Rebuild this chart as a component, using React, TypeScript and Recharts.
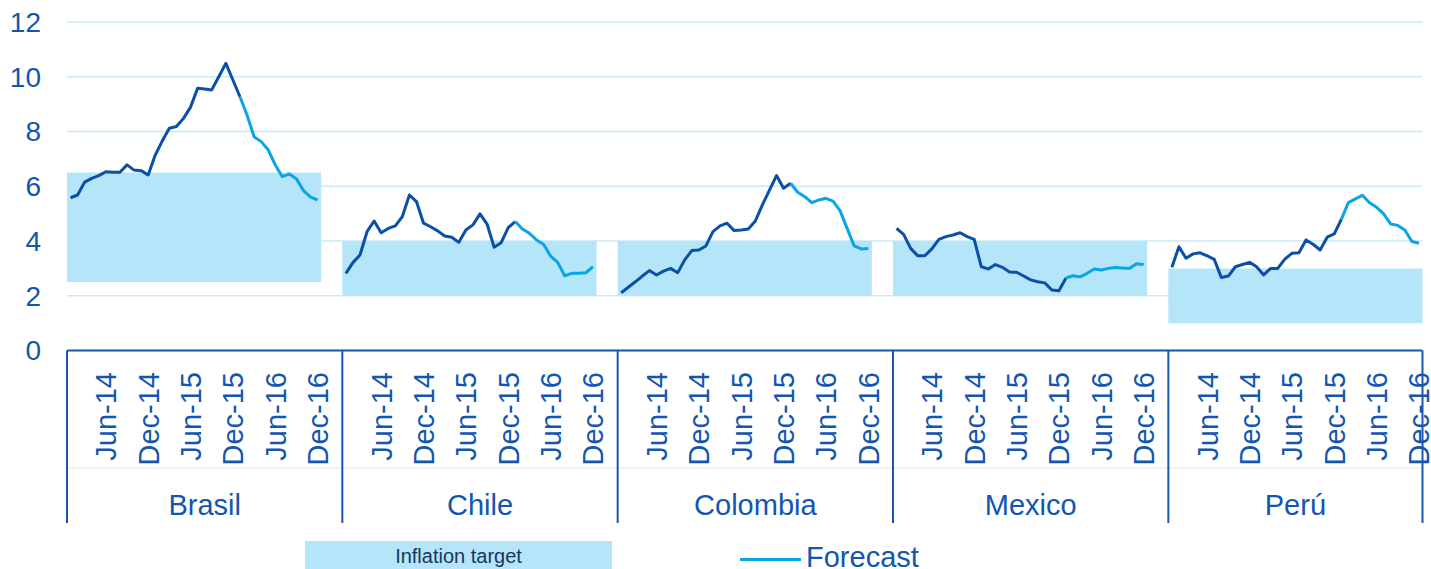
import React from 'react';
import { LineChart, Line, XAxis, YAxis, CartesianGrid, ReferenceArea } from 'recharts';

// ---------- data ----------
const countries = ['Brasil', 'Chile', 'Colombia', 'Mexico', 'Perú'];
const monthAbbr = ['Jan', 'Feb', 'Mar', 'Apr', 'May', 'Jun', 'Jul', 'Aug', 'Sep', 'Oct', 'Nov', 'Dec'];
const yearSuffixes = ['14', '15', '16'];
const monthLabels = yearSuffixes.flatMap((y) => monthAbbr.map((m) => `${m}-${y}`));
const shownMonthTicks = ['Jun-14', 'Dec-14', 'Jun-15', 'Dec-15', 'Jun-16', 'Dec-16'];
const yTicks = [0, 2, 4, 6, 8, 10, 12];
const gapSlotsBetweenCountries = 3;

// observed (Jan-14 .. Jan-16)
const brasilActual = [5.58, 5.68, 6.15, 6.29, 6.39, 6.53, 6.51, 6.51, 6.78, 6.59, 6.57, 6.41, 7.14, 7.66, 8.12, 8.18, 8.48, 8.89, 9.58, 9.55, 9.52, 10.0, 10.49, 9.88, 9.27];
const chileActual = [2.82, 3.21, 3.49, 4.34, 4.73, 4.30, 4.46, 4.55, 4.89, 5.68, 5.44, 4.65, 4.52, 4.37, 4.18, 4.14, 3.95, 4.40, 4.59, 4.99, 4.62, 3.77, 3.94, 4.49, 4.71];
const colombiaActual = [2.11, 2.31, 2.51, 2.72, 2.92, 2.76, 2.90, 3.00, 2.84, 3.31, 3.65, 3.67, 3.82, 4.34, 4.55, 4.65, 4.38, 4.40, 4.44, 4.73, 5.32, 5.86, 6.39, 5.93, 6.11];
const mexicoActual = [4.46, 4.24, 3.73, 3.46, 3.46, 3.71, 4.06, 4.16, 4.22, 4.30, 4.16, 4.06, 3.06, 2.98, 3.14, 3.04, 2.87, 2.86, 2.72, 2.58, 2.51, 2.47, 2.21, 2.18, 2.65];
const peruActual = [3.04, 3.79, 3.37, 3.53, 3.57, 3.46, 3.33, 2.67, 2.72, 3.06, 3.14, 3.22, 3.06, 2.76, 3.00, 3.00, 3.34, 3.55, 3.57, 4.04, 3.88, 3.67, 4.14, 4.26, 4.79];

// forecast (Feb-16 .. Dec-16)
const brasilForecast = [8.60, 7.81, 7.63, 7.33, 6.78, 6.35, 6.45, 6.27, 5.84, 5.60, 5.50];
const chileForecast = [4.44, 4.28, 4.04, 3.88, 3.45, 3.22, 2.73, 2.82, 2.82, 2.84, 3.06];
const colombiaForecast = [5.78, 5.62, 5.40, 5.50, 5.56, 5.46, 5.11, 4.46, 3.82, 3.71, 3.73];
const mexicoForecast = [2.73, 2.69, 2.82, 2.98, 2.94, 3.00, 3.03, 3.01, 3.00, 3.17, 3.14];
const peruForecast = [5.40, 5.54, 5.67, 5.40, 5.23, 4.99, 4.62, 4.57, 4.40, 3.98, 3.92];

// inflation target ranges
const targetLow = [2.5, 2, 2, 2, 1];
const targetHigh = [6.5, 4, 4, 4, 3];

const actualByCountry = [brasilActual, chileActual, colombiaActual, mexicoActual, peruActual];
const forecastByCountry = [brasilForecast, chileForecast, colombiaForecast, mexicoForecast, peruForecast];

// ---------- build table ----------
type Row = { key: string; actual: number | null; forecast: number | null };
type SlotInfo = { country: number; month: number | null; slot: number; groupSize: number; global: number };

const rows: Row[] = [];
const slotInfo: Record<string, SlotInfo> = {};
countries.forEach((c, ci) => {
  const act = actualByCountry[ci];
  const fc = forecastByCountry[ci];
  const gaps = ci < countries.length - 1 ? gapSlotsBetweenCountries : 0;
  const groupSize = monthLabels.length + gaps;
  monthLabels.forEach((m, mi) => {
    const key = `${c}|${m}`;
    const lastAct = act.length - 1;
    rows.push({
      key,
      actual: mi <= lastAct ? act[mi] : null,
      forecast: mi === lastAct ? act[lastAct] : mi > lastAct ? fc[mi - lastAct - 1] ?? null : null,
    });
    slotInfo[key] = { country: ci, month: mi, slot: mi, groupSize, global: rows.length - 1 };
  });
  for (let g = 0; g < gaps; g++) {
    const key = `${c}|gap${g}`;
    rows.push({ key, actual: null, forecast: null });
    slotInfo[key] = { country: ci, month: null, slot: monthLabels.length + g, groupSize, global: rows.length - 1 };
  }
});

// ---------- styling ----------
const W = 1431;
const H = 569;
const MARGIN = { top: 22, right: 8.5, bottom: 46, left: 0 };
const Y_AXIS_W = 67;
const X_AXIS_H = 172.5;
const TEXT_BLUE = '#1256B0';
const AXIS_BLUE = '#1A56AE';
const DARK_LINE = '#0A4FA8';
const LIGHT_LINE = '#0AA5E6';
const BAND = '#B5E5F8';
const GRID = '#C8EAF8';
const FONT = '"Liberation Sans", Arial, Helvetica, sans-serif';

const PLOT_W = W - MARGIN.left - Y_AXIS_W - MARGIN.right;
const SLOT_FALLBACK = PLOT_W / rows.length;

function XTick(props: any) {
  const { x, y, payload } = props;
  const info = slotInfo[payload?.value];
  if (!info) return null;
  const half = typeof payload.offset === 'number' && payload.offset > 0 ? payload.offset : SLOT_FALLBACK / 2;
  const els: React.ReactNode[] = [];
  const sepTop = y;
  const sepBottom = y + X_AXIS_H;
  if (info.global === 0) {
    els.push(
      <line key="mid" x1={x - half} x2={x - half + rows.length * 2 * half} y1={y + 117.5} y2={y + 117.5} stroke="#DCE8F4" strokeWidth={1} />
    );
  }
  if (info.month !== null && shownMonthTicks.includes(monthLabels[info.month])) {
    els.push(
      <text
        key="m"
        transform={`translate(${x},${y + 21.5}) rotate(-90)`}
        textAnchor="end"
        dy="0.36em"
        fontSize={29}
        fill={TEXT_BLUE}
        fontFamily={FONT}
      >
        {monthLabels[info.month]}
      </text>
    );
  }
  if (info.slot === 0) {
    els.push(<line key="s" x1={x - half} x2={x - half} y1={sepTop} y2={sepBottom} stroke={AXIS_BLUE} strokeWidth={2} />);
  }
  if (info.global === rows.length - 1) {
    els.push(<line key="e" x1={x + half} x2={x + half} y1={sepTop} y2={sepBottom} stroke={AXIS_BLUE} strokeWidth={2} />);
  }
  const labelSlot = Math.floor((info.groupSize - 1) / 2);
  if (info.slot === labelSlot) {
    const cx = info.groupSize % 2 === 0 ? x + half : x;
    els.push(
      <text key="c" x={cx} y={y + 164.5} textAnchor="middle" fontSize={29} fill={TEXT_BLUE} fontFamily={FONT}>
        {countries[info.country]}
      </text>
    );
  }
  return <g>{els}</g>;
}

export default function App() {
  return (
    <div style={{ position: 'fixed', left: 0, top: 0, width: W, height: H, background: '#fff', overflow: 'hidden', fontFamily: FONT }}>
      <LineChart width={W} height={H} data={rows} margin={MARGIN}>
        <CartesianGrid horizontal vertical={false} stroke={GRID} strokeWidth={1.3} />
        {countries.map((c, ci) => (
          <ReferenceArea
            key={c}
            x1={`${c}|${monthLabels[0]}`}
            x2={`${c}|${monthLabels[monthLabels.length - 1]}`}
            y1={targetLow[ci]}
            y2={targetHigh[ci]}
            fill={BAND}
            fillOpacity={1}
            stroke="none"
            ifOverflow="visible"
          />
        ))}
        <XAxis
          dataKey="key"
          type="category"
          scale="band"
          interval={0}
          height={X_AXIS_H}
          tickLine={false}
          tickSize={0}
          tickMargin={0}
          axisLine={{ stroke: AXIS_BLUE, strokeWidth: 2 }}
          tick={<XTick />}
        />
        <YAxis
          width={Y_AXIS_W}
          domain={[0, 12]}
          ticks={yTicks}
          interval={0}
          axisLine={false}
          tickLine={false}
          tickSize={0}
          tickMargin={26}
          tick={{ fill: TEXT_BLUE, fontSize: 28, fontFamily: FONT }}
        />
        <Line
          dataKey="actual"
          type="linear"
          stroke={DARK_LINE}
          strokeWidth={3}
          dot={false}
          activeDot={false}
          connectNulls={false}
          strokeLinejoin="round"
          isAnimationActive={false}
        />
        <Line
          dataKey="forecast"
          type="linear"
          stroke={LIGHT_LINE}
          strokeWidth={3}
          dot={false}
          activeDot={false}
          connectNulls={false}
          strokeLinejoin="round"
          isAnimationActive={false}
        />
      </LineChart>
      <div
        style={{
          position: 'absolute',
          left: 305,
          top: 541,
          width: 307,
          height: 40,
          background: BAND,
          color: '#17375E',
          fontSize: 20,
          lineHeight: '30px',
          textAlign: 'center',
        }}
      >
        Inflation target
      </div>
      <div style={{ position: 'absolute', left: 740, top: 557.5, width: 61, height: 3, background: LIGHT_LINE }} />
      <div
        style={{
          position: 'absolute',
          left: 806,
          top: 540,
          fontSize: 29,
          lineHeight: '34px',
          color: TEXT_BLUE,
          whiteSpace: 'nowrap',
        }}
      >
        Forecast
      </div>
    </div>
  );
}
